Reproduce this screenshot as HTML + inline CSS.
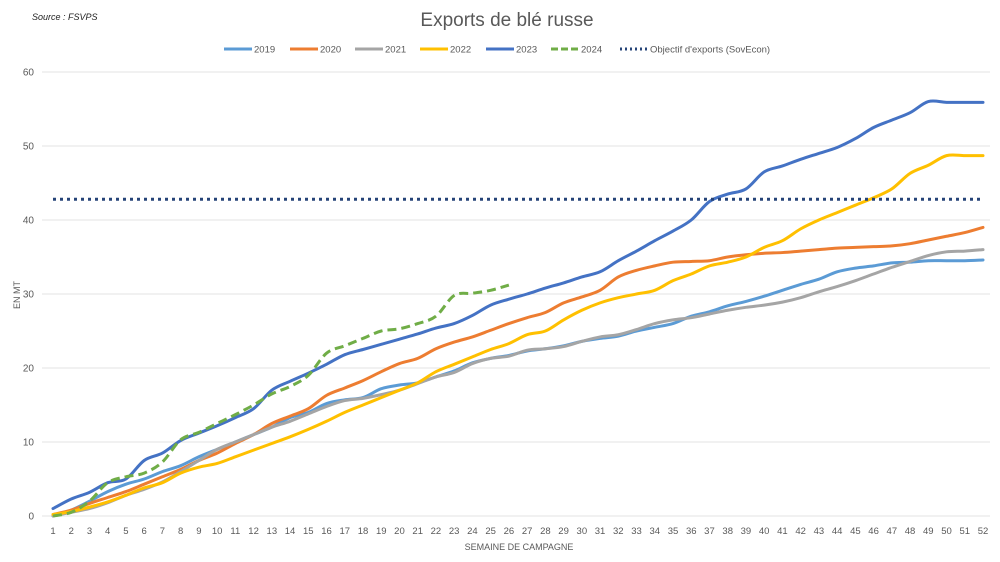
<!DOCTYPE html>
<html><head><meta charset="utf-8"><style>
html,body{margin:0;padding:0;background:#fff;}
svg{display:block;font-family:"Liberation Sans",sans-serif;}
</style></head><body>
<svg id="c" width="1000" height="562" viewBox="0 0 1000 562" xmlns="http://www.w3.org/2000/svg">
<rect width="1000" height="562" fill="#fff"/>
<text x="32" y="20" font-size="9" font-style="italic" fill="#222">Source : FSVPS</text>
<text x="507" y="26" font-size="19" fill="#595959" text-anchor="middle">Exports de blé russe</text>
<g id="g"></g>
</svg>
<script>
const svg=document.getElementById('g');
const NS='http://www.w3.org/2000/svg';
function el(t,a,txt){const e=document.createElementNS(NS,t);for(const k in a)e.setAttribute(k,a[k]);if(txt!=null)e.textContent=txt;svg.appendChild(e);return e;}
const X=w=>53+(w-1)*930/51, Y=v=>516-v*7.4;
for(let v=0;v<=60;v+=10){el('line',{x1:42,x2:990,y1:Y(v),y2:Y(v),stroke:'#e3e3e3','stroke-width':1});
el('text',{x:34,y:Y(v)+3.5,'font-size':10,fill:'#595959','text-anchor':'end'},v);}
for(let w=1;w<=52;w++)el('text',{x:X(w),y:534,'font-size':9.5,fill:'#595959','text-anchor':'middle'},w);
el('text',{x:519,y:550,'font-size':9,fill:'#595959','text-anchor':'middle'},'SEMAINE DE CAMPAGNE');
el('text',{x:0,y:0,'font-size':9,fill:'#595959','text-anchor':'middle',transform:'translate(20,295) rotate(-90)'},'EN MT');
function path(d){let p=d.map((v,i)=>[X(i+1),Y(v)]);let s='M'+p[0][0]+','+p[0][1];
for(let i=0;i<p.length-1;i++){const p0=p[i-1]||p[i],p1=p[i],p2=p[i+1],p3=p[i+2]||p2;
s+=' C'+(p1[0]+(p2[0]-p0[0])/6)+','+(p1[1]+(p2[1]-p0[1])/6)+' '+(p2[0]-(p3[0]-p1[0])/6)+','+(p2[1]-(p3[1]-p1[1])/6)+' '+p2[0]+','+p2[1];}return s;}
const S={
'2019':['#5b9bd5',[0,0.8,2,3.3,4.3,5,6,6.8,8,9,10,11,12,13.3,14,15.2,15.7,16,17.2,17.7,18,18.8,19.6,20.7,21.3,21.7,22.3,22.6,23,23.6,24,24.3,25,25.5,26,27,27.6,28.4,29,29.7,30.5,31.3,32,33,33.5,33.8,34.2,34.3,34.5,34.5,34.5,34.6]],
'2020':['#ed7d31',[0.2,0.8,1.7,2.5,3.3,4.3,5.3,6.3,7.5,8.5,9.8,11,12.5,13.5,14.5,16.3,17.3,18.3,19.5,20.6,21.3,22.6,23.5,24.2,25.1,26,26.8,27.5,28.8,29.6,30.5,32.3,33.2,33.8,34.3,34.4,34.5,35,35.3,35.5,35.6,35.8,36,36.2,36.3,36.4,36.5,36.8,37.3,37.8,38.3,39]],
'2021':['#a5a5a5',[0,0.5,1,1.8,2.8,3.6,4.6,6,7.5,9,10,11,12,12.8,13.8,14.8,15.6,15.9,16.4,17,17.9,18.8,19.4,20.6,21.3,21.6,22.4,22.6,22.9,23.6,24.2,24.5,25.2,26,26.5,26.8,27.3,27.8,28.2,28.5,28.9,29.5,30.3,31,31.8,32.7,33.6,34.4,35.2,35.7,35.8,36]],
'2022':['#ffc000',[0.2,0.6,1.2,1.9,2.8,3.8,4.5,5.8,6.6,7.1,8,8.9,9.8,10.7,11.7,12.8,14,15,16,17,18,19.5,20.5,21.5,22.5,23.3,24.5,25,26.5,27.8,28.8,29.5,30,30.5,31.8,32.7,33.8,34.3,35,36.3,37.2,38.8,40,41,42,43,44.2,46.3,47.4,48.7,48.7,48.7]],
'2023':['#4472c4',[1,2.3,3.2,4.5,5,7.5,8.5,10.2,11.2,12.2,13.3,14.5,17,18.2,19.3,20.5,21.8,22.5,23.2,23.9,24.6,25.4,26,27.1,28.5,29.3,30,30.8,31.5,32.3,33,34.5,35.8,37.2,38.5,40,42.5,43.5,44.2,46.5,47.3,48.2,49,49.8,51,52.5,53.5,54.5,56,55.9,55.9,55.9]]};
for(const k in S)el('path',{d:path(S[k][1]),fill:'none',stroke:S[k][0],'stroke-width':3,'stroke-linecap':'round'});
el('path',{d:path([0,0.5,2,4.5,5.3,5.8,7.3,10.3,11.3,12.5,13.7,15,16.5,17.5,19,22,23,24,25,25.3,26,27,29.8,30.1,30.5,31.2]),fill:'none',stroke:'#70ad47','stroke-width':3,'stroke-dasharray':'9,5'});
el('line',{x1:53,x2:983,y1:Y(42.8),y2:Y(42.8),stroke:'#264478','stroke-width':3,'stroke-dasharray':'3,4'});
// legend
const L=[['2019','#5b9bd5',224,''],['2020','#ed7d31',290,''],['2021','#a5a5a5',355,''],['2022','#ffc000',420,''],['2023','#4472c4',486,''],['2024','#70ad47',551,'7,3'],["Objectif d'exports (SovEcon)",'#264478',620,'2,3']];
for(const l of L){el('line',{x1:l[2],x2:l[2]+28,y1:49,y2:49,stroke:l[1],'stroke-width':3,'stroke-dasharray':l[3]||'none'});
el('text',{x:l[2]+30,y:52.5,'font-size':9.5,fill:'#595959'},l[0]);}
</script>
</body></html>
